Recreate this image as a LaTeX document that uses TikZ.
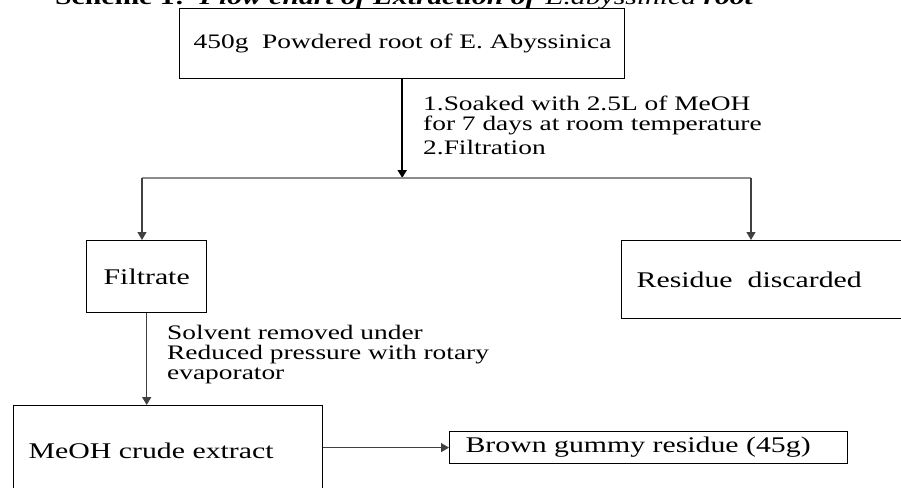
\documentclass[tikz,border=0pt]{standalone}
\usepackage{fontspec}
\setmainfont{Liberation Serif}[FakeStretch=1.33]
\usepackage{tikz}
\usetikzlibrary{arrows.meta, positioning}

\newcommand{\boxfont}{\fontsize{22.4}{26}\selectfont}
\newcommand{\notefont}{\fontsize{20.6}{20}\selectfont}
\newcommand{\titlefont}{\fontsize{22.3}{26}\selectfont}

\begin{document}
\begin{tikzpicture}[
    x=1pt, y=-1pt,
    box/.style={draw, line width=1.4pt, anchor=north west, inner sep=0pt, font=\boxfont},
    note/.style={inner sep=0pt, align=left, font=\notefont},
    arrow/.style={-{Triangle[length=8pt,width=9pt]}, line width=1.2pt, black!75},
    branch/.style={line width=1.4pt, black!45}
]
    \useasboundingbox (0,0) rectangle (901,487);

    \node[anchor=base west, inner sep=0pt, font=\titlefont] (title) at (55,5)
        {\textbf{Scheme 1:}\ \ \textbf{\textit{Flow chart of Extraction of}} \textit{E.abyssinica} \textbf{\textit{root}}};

    \node[box, font=\notefont, text width=417pt, inner xsep=14pt, minimum height=70pt, align=left] (root) at (179,8) {\mbox{450g\ \ Powdered root of E. Abyssinica}};
    \node[box, minimum width=120pt, minimum height=72pt] (filtrate) at (86,240) {Filtrate};
    \node[box, text width=254pt, inner xsep=15pt, minimum height=78pt, align=left] (residue) at (621,240) {Residue\ \ discarded};
    \node[box, text width=279pt, inner xsep=15pt, minimum height=90pt, align=left] (meoh) at (13,405) {MeOH crude extract};
    \node[box, line width=1.2pt, text width=366pt, inner xsep=16pt, minimum height=32pt, align=left] (brown) at (449,431) {Brown gummy residue (45g)};

    \coordinate (lft) at (142,178);
    \coordinate (rgt) at (751,178);

    \draw[arrow, line width=1.8pt, black] (root.south) -- (root.south |- lft);
    \draw[branch] (lft) -- (rgt);
    \draw[arrow] (lft) -- (lft |- filtrate.north);
    \draw[arrow] (rgt) -- (rgt |- residue.north);
    \draw[arrow, line width=1.5pt] (filtrate.south) -- (filtrate.south |- meoh.north);
    \draw[arrow] (brown.west -| meoh.east) -- (brown.west);

    \node[note, anchor=west] (soak) at (423,125) {1.Soaked with 2.5L of MeOH\\for 7 days at room temperature\\[4pt]2.Filtration};
    \node[note, anchor=west] (solvent) at (167,355) {Solvent removed under\\Reduced pressure with rotary\\evaporator};
\end{tikzpicture}
\end{document}
